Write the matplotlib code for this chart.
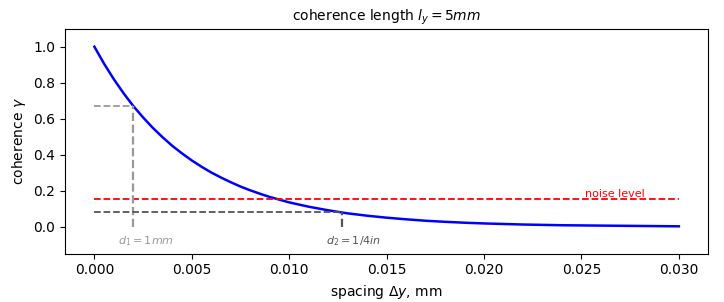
import matplotlib
matplotlib.use('Agg')
import matplotlib.pyplot as plt

# spacing (m) and coherence
spacing = [0.0000, 0.0005, 0.0010, 0.0015, 0.0020, 0.0025, 0.0030, 0.0035, 0.0040,
           0.0045, 0.0050, 0.0055, 0.0060, 0.0065, 0.0070, 0.0075, 0.0080, 0.0085,
           0.0090, 0.0095, 0.0100, 0.0110, 0.0120, 0.0130, 0.0140, 0.0150, 0.0160,
           0.0170, 0.0180, 0.0190, 0.0200, 0.0210, 0.0220, 0.0230, 0.0240, 0.0250,
           0.0260, 0.0270, 0.0280, 0.0290, 0.0300]
coherence = [1.000, 0.905, 0.819, 0.741, 0.670, 0.607, 0.549, 0.497, 0.449,
             0.407, 0.368, 0.333, 0.301, 0.273, 0.247, 0.223, 0.202, 0.183,
             0.165, 0.150, 0.135, 0.111, 0.091, 0.074, 0.061, 0.050, 0.041,
             0.033, 0.027, 0.022, 0.018, 0.015, 0.012, 0.010, 0.008, 0.007,
             0.006, 0.005, 0.004, 0.003, 0.002]

noise_level = 0.155
d1, gamma1 = 0.002, 0.670
d2, gamma2 = 0.0127, 0.079

fig, ax = plt.subplots(figsize=(7.24, 3.02), dpi=100)
fig.subplots_adjust(left=0.09, right=0.978, top=0.905, bottom=0.16)

ax.plot(spacing, coherence, color='blue', lw=1.8)
ax.plot([spacing[0], spacing[-1]], [noise_level, noise_level], 'r--', lw=1.3)
ax.text(0.0252, noise_level + 0.01, 'noise level', color='red', fontsize=8)

# d1 marker
ax.plot([0, d1], [gamma1, gamma1], '--', color='#999999', lw=1.3)
ax.plot([d1, d1], [0, gamma1], '--', color='#999999', lw=1.6)
ax.text(d1 - 0.0008, -0.08, '$d_1 = 1mm$', color='#999999', fontsize=8, ha='left', va='center')

# d2 marker
ax.plot([0, d2], [gamma2, gamma2], '--', color='#555555', lw=1.3)
ax.plot([d2, d2], [0, gamma2], '--', color='#555555', lw=1.6)
ax.text(d2 - 0.0008, -0.08, '$d_2 = 1/4in$', color='#555555', fontsize=8, ha='left', va='center')

ax.set_ylim(-0.15, 1.1)
ax.set_title('coherence length $l_y = 5mm$', fontsize=10)
ax.set_xlabel(r'spacing $\Delta y$, mm')
ax.set_ylabel(r'coherence $\gamma$')

plt.savefig('out.png')
